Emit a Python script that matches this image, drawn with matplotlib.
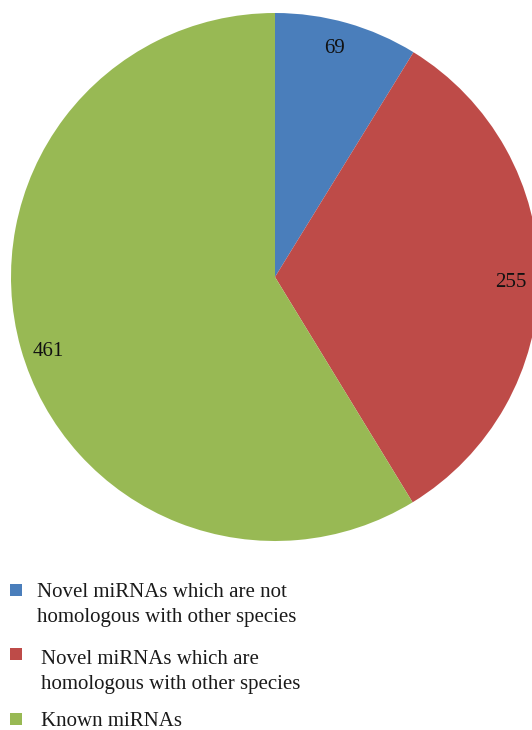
import numpy as np
import matplotlib.pyplot as plt
from matplotlib.patches import Rectangle

# Pie data
categories = [
    "Novel miRNAs which are not\nhomologous with other species",
    "Novel miRNAs which are\nhomologous with other species",
    "Known miRNAs",
]
counts = [69, 255, 461]
colors = ["#4A7EBB", "#BE4B48", "#98B954"]
# label placement: fraction of radius and small angle nudge (deg) per wedge
label_radius = [0.905, 0.895, 0.90]
label_nudge = [1.3, -0.7, 2.0]

plt.rcParams["font.family"] = ["Liberation Serif", "DejaVu Serif"]

W, H = 532, 730
fig = plt.figure(figsize=(W / 100, H / 100), dpi=100)
ax = fig.add_axes([0, 0, 1, 1])

cx, cy, r = 275, H - 277, 264
wedges, _ = ax.pie(counts, colors=colors, startangle=90, counterclock=False,
                   center=(cx, cy), radius=r, wedgeprops=dict(linewidth=0))

# count labels inside wedges
for w, n, f, d in zip(wedges, counts, label_radius, label_nudge):
    mid = np.deg2rad((w.theta1 + w.theta2) / 2 + d)
    ax.text(cx + f * r * np.cos(mid), cy + f * r * np.sin(mid), str(n),
            ha="center", va="center_baseline", fontsize=15, color="#111111")

ax.set_xlim(0, W)
ax.set_ylim(0, H)
ax.set_aspect("equal")
ax.axis("off")

# legend drawn by hand (square swatch + wrapped text)
swatch_top = [584, 648, 713]   # px from top
last_base = [622, 689, 726]    # baseline of last text line, px from top
text_x = [37, 41, 41]
for col, lab, st, yb, tx in zip(colors, categories, swatch_top, last_base, text_x):
    ax.add_patch(Rectangle((10, H - st - 12), 12, 12, color=col, lw=0))
    ax.text(tx, H - yb, lab, ha="left", va="baseline", fontsize=15,
            linespacing=1.45, color="#1a1a1a")

fig.savefig("out.png", dpi=100, facecolor="white")
